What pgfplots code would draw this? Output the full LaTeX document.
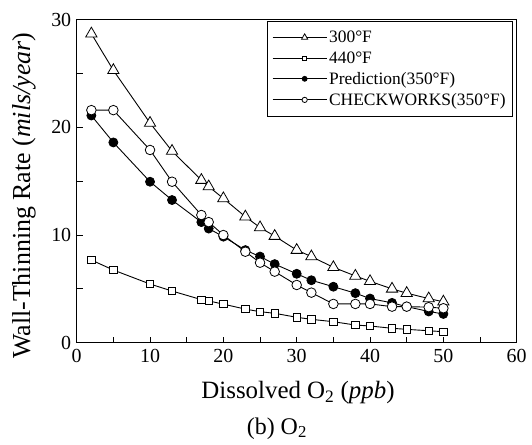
\documentclass[border=0pt]{standalone}
\usepackage{fontspec}
\setmainfont{Liberation Serif}
\usepackage{pgfplots}
\pgfplotsset{compat=1.18}

\begin{document}
\begin{tikzpicture}[x=1bp,y=1bp]
\useasboundingbox (-76.7,-102.3) rectangle (455.3,342.7);
\begin{axis}[
    at={(0,0)}, anchor=south west,
    scale only axis, width=440bp, height=323bp,
    clip mode=individual,
    xmin=0, xmax=60, ymin=0, ymax=30,
    xtick={0,10,...,60}, ytick={0,10,20,30},
    minor xtick={5,15,...,55}, minor ytick={5,15,25},
    tick pos=left, tick align=inside,
    major tick length=6bp, minor tick length=6bp,
    axis line style={line width=1.1bp},
    tick style={line width=0.9bp, black},
    ticklabel style={font=\fontsize{20}{20}\selectfont},
    xticklabel style={yshift=-3bp},
    yticklabel style={xshift=-2bp},
    /pgf/number format/assume math mode=true,
    xlabel={Dissolved O\textsubscript{2} (\textit{ppb})},
    ylabel={Wall-Thinning Rate (\textit{mils/year})},
    label style={font=\fontsize{25}{25}\selectfont},
    xlabel style={at={(axis description cs:0.503,-0.155)}, anchor=center},
    ylabel style={at={(axis description cs:-0.12,0.455)}, anchor=center,
        font=\fontsize{26}{26}\selectfont},
    legend style={at={(axis description cs:0.9916,0.996)}, anchor=north east,
        draw=black, line width=0.8bp, font=\fontsize{17.5}{17.5}\selectfont,
        row sep=3.5bp, inner xsep=5bp, inner ysep=7.5bp,
        nodes={inner xsep=2bp}},
    legend cell align=left,
    legend image code/.code={
        \path (-10bp,0bp) -- (44bp,0bp);
        \draw[mark repeat=2, mark phase=2, #1, every mark/.append style={scale=0.55}]
        plot coordinates {(0bp,0bp) (22bp,0bp) (44bp,0bp)};
    },
    every axis plot/.append style={black, line width=0.9bp},
]

\addplot[mark=triangle*, mark size=6.5bp, mark options={fill=white, line width=0.8bp}]
coordinates {
    (2,28.7)(5,25.3)(10,20.4)(13,17.8)(17,15.1)(18,14.5)(20,13.4)(23,11.7)(25,10.7)
    (27,9.9)(30,8.6)(32,8.0)(35,7.0)(38,6.2)(40,5.7)(43,5.0)(45,4.6)(48,4.1)(50,3.8)
};
\addlegendentry{300°F}

\addplot[mark=square*, mark size=3.7bp, mark options={fill=white, line width=0.8bp}]
coordinates {
    (2,7.68)(5,6.75)(10,5.45)(13,4.8)(17,4.0)(18,3.88)(20,3.58)(23,3.12)(25,2.88)
    (27,2.73)(30,2.36)(32,2.17)(35,1.95)(38,1.64)(40,1.55)(43,1.34)(45,1.24)(48,1.11)(50,1.02)
};
\addlegendentry{440°F}

\addplot[mark=*, mark size=4.5bp, mark options={fill=black, line width=0.8bp}]
coordinates {
    (2,21.1)(5,18.6)(10,14.95)(13,13.25)(17,11.2)(18,10.6)(20,9.85)(23,8.6)(25,8.0)
    (27,7.3)(30,6.4)(32,5.8)(35,5.2)(38,4.6)(40,4.1)(43,3.7)(45,3.35)(48,2.9)(50,2.67)
};
\addlegendentry{Prediction(350°F)}

\addplot[mark=*, mark size=4.8bp, mark options={fill=white, line width=0.8bp}]
coordinates {
    (2,21.6)(5,21.6)(10,17.9)(13,14.95)(17,11.86)(18,11.2)(20,10.0)(23,8.45)(25,7.43)
    (27,6.6)(30,5.36)(32,4.65)(35,3.6)(38,3.6)(40,3.6)(43,3.35)(45,3.35)(48,3.3)(50,3.2)
};
\addlegendentry{CHECKWORKS(350°F)}

\node[font=\fontsize{24}{24}\selectfont] at (axis description cs:0.455,-0.265) {(b) O\textsubscript{2}};
\end{axis}
\end{tikzpicture}
\end{document}
